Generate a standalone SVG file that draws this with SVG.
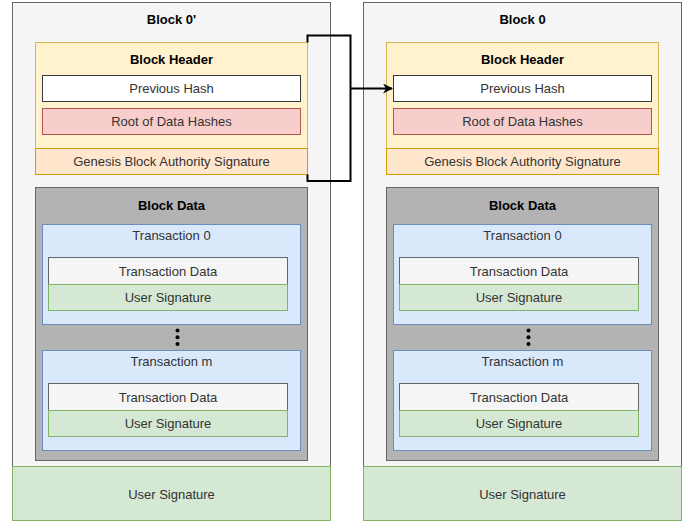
<svg xmlns="http://www.w3.org/2000/svg" width="697" height="523" viewBox="0 0 697 523">
<style>
text{font-family:"Liberation Sans",Arial,Helvetica,sans-serif;font-size:13px;text-anchor:middle;dominant-baseline:central;fill:#333333}
.b{font-weight:bold;fill:#000000}
.outer{fill:#f5f5f5;stroke:#666666}
.hdr{fill:#fff2cc;stroke:#d6b656}
.ph{fill:#ffffff;stroke:#36393d}
.root{fill:#f8cecc;stroke:#b85450}
.gen{fill:#ffe6cc;stroke:#d79b00}
.data{fill:#b3b3b3;stroke:#666666}
.tx{fill:#dae8fc;stroke:#6c8ebf}
.td{fill:#f5f5f5;stroke:#666666}
.us{fill:#d5e8d4;stroke:#82b366}
.conn{fill:none;stroke:#000000;stroke-width:2}
</style>
<defs>
<marker id="arr" viewBox="0 0 10 10" refX="9" refY="5" markerWidth="5" markerHeight="5" orient="auto" markerUnits="strokeWidth">
<path d="M0,0 L10,5 L0,10 L3,5 Z" fill="#000000"/>
</marker>
</defs>
<g id="block0prime">
<rect class="outer" x="12.5" y="2.5" width="318" height="464"/>
<text class="b" x="171.5" y="19">Block 0'</text>
<g id="header0prime">
<rect class="hdr" x="35.5" y="42.5" width="272" height="106"/>
<text class="b" x="171.5" y="59">Block Header</text>
<rect class="ph" x="42.5" y="75.5" width="258" height="26"/>
<text x="171.5" y="88.5">Previous Hash</text>
<rect class="root" x="42.5" y="108.5" width="258" height="26"/>
<text x="171.5" y="121.5">Root of Data Hashes</text>
<rect class="gen" x="35.5" y="148.5" width="272" height="26"/>
<text x="171.5" y="161.5">Genesis Block Authority Signature</text>
</g>
<g id="data0prime">
<rect class="data" x="35.5" y="187.5" width="272" height="273"/>
<text class="b" x="171.5" y="205">Block Data</text>
<rect class="tx" x="42.5" y="224.5" width="258" height="100"/>
<text x="171.5" y="235">Transaction 0</text>
<rect class="td" x="48.5" y="257.5" width="239" height="27"/>
<text x="168" y="271">Transaction Data</text>
<rect class="us" x="48.5" y="284.5" width="239" height="26"/>
<text x="168" y="297.5">User Signature</text>
<circle cx="177.5" cy="330.5" r="2"/>
<circle cx="177.5" cy="337.3" r="2"/>
<circle cx="177.5" cy="344" r="2"/>
<rect class="tx" x="42.5" y="350.5" width="258" height="100"/>
<text x="171.5" y="361">Transaction m</text>
<rect class="td" x="48.5" y="383.5" width="239" height="27"/>
<text x="168" y="397">Transaction Data</text>
<rect class="us" x="48.5" y="410.5" width="239" height="26"/>
<text x="168" y="423.5">User Signature</text>
</g>
<rect class="us" x="12.5" y="466.5" width="318" height="54"/>
<text x="171.5" y="494">User Signature</text>
</g>
<g id="block0">
<rect class="outer" x="363.5" y="2.5" width="318" height="464"/>
<text class="b" x="522.5" y="19">Block 0</text>
<g id="header0">
<rect class="hdr" x="386.5" y="42.5" width="272" height="106"/>
<text class="b" x="522.5" y="59">Block Header</text>
<rect class="ph" x="393.5" y="75.5" width="258" height="26"/>
<text x="522.5" y="88.5">Previous Hash</text>
<rect class="root" x="393.5" y="108.5" width="258" height="26"/>
<text x="522.5" y="121.5">Root of Data Hashes</text>
<rect class="gen" x="386.5" y="148.5" width="272" height="26"/>
<text x="522.5" y="161.5">Genesis Block Authority Signature</text>
</g>
<g id="data0">
<rect class="data" x="386.5" y="187.5" width="272" height="273"/>
<text class="b" x="522.5" y="205">Block Data</text>
<rect class="tx" x="393.5" y="224.5" width="258" height="100"/>
<text x="522.5" y="235">Transaction 0</text>
<rect class="td" x="399.5" y="257.5" width="239" height="27"/>
<text x="519" y="271">Transaction Data</text>
<rect class="us" x="399.5" y="284.5" width="239" height="26"/>
<text x="519" y="297.5">User Signature</text>
<circle cx="528.5" cy="330.5" r="2"/>
<circle cx="528.5" cy="337.3" r="2"/>
<circle cx="528.5" cy="344" r="2"/>
<rect class="tx" x="393.5" y="350.5" width="258" height="100"/>
<text x="522.5" y="361">Transaction m</text>
<rect class="td" x="399.5" y="383.5" width="239" height="27"/>
<text x="519" y="397">Transaction Data</text>
<rect class="us" x="399.5" y="410.5" width="239" height="26"/>
<text x="519" y="423.5">User Signature</text>
</g>
<rect class="us" x="363.5" y="466.5" width="318" height="54"/>
<text x="522.5" y="494">User Signature</text>
</g>
<g id="connectors">
<path class="conn" d="M307.5,42.5 V35.5 H350.5 V181 H307.5 V174.5"/>
<path class="conn" d="M350.5,88.5 H392" marker-end="url(#arr)"/>
</g>
</svg>
